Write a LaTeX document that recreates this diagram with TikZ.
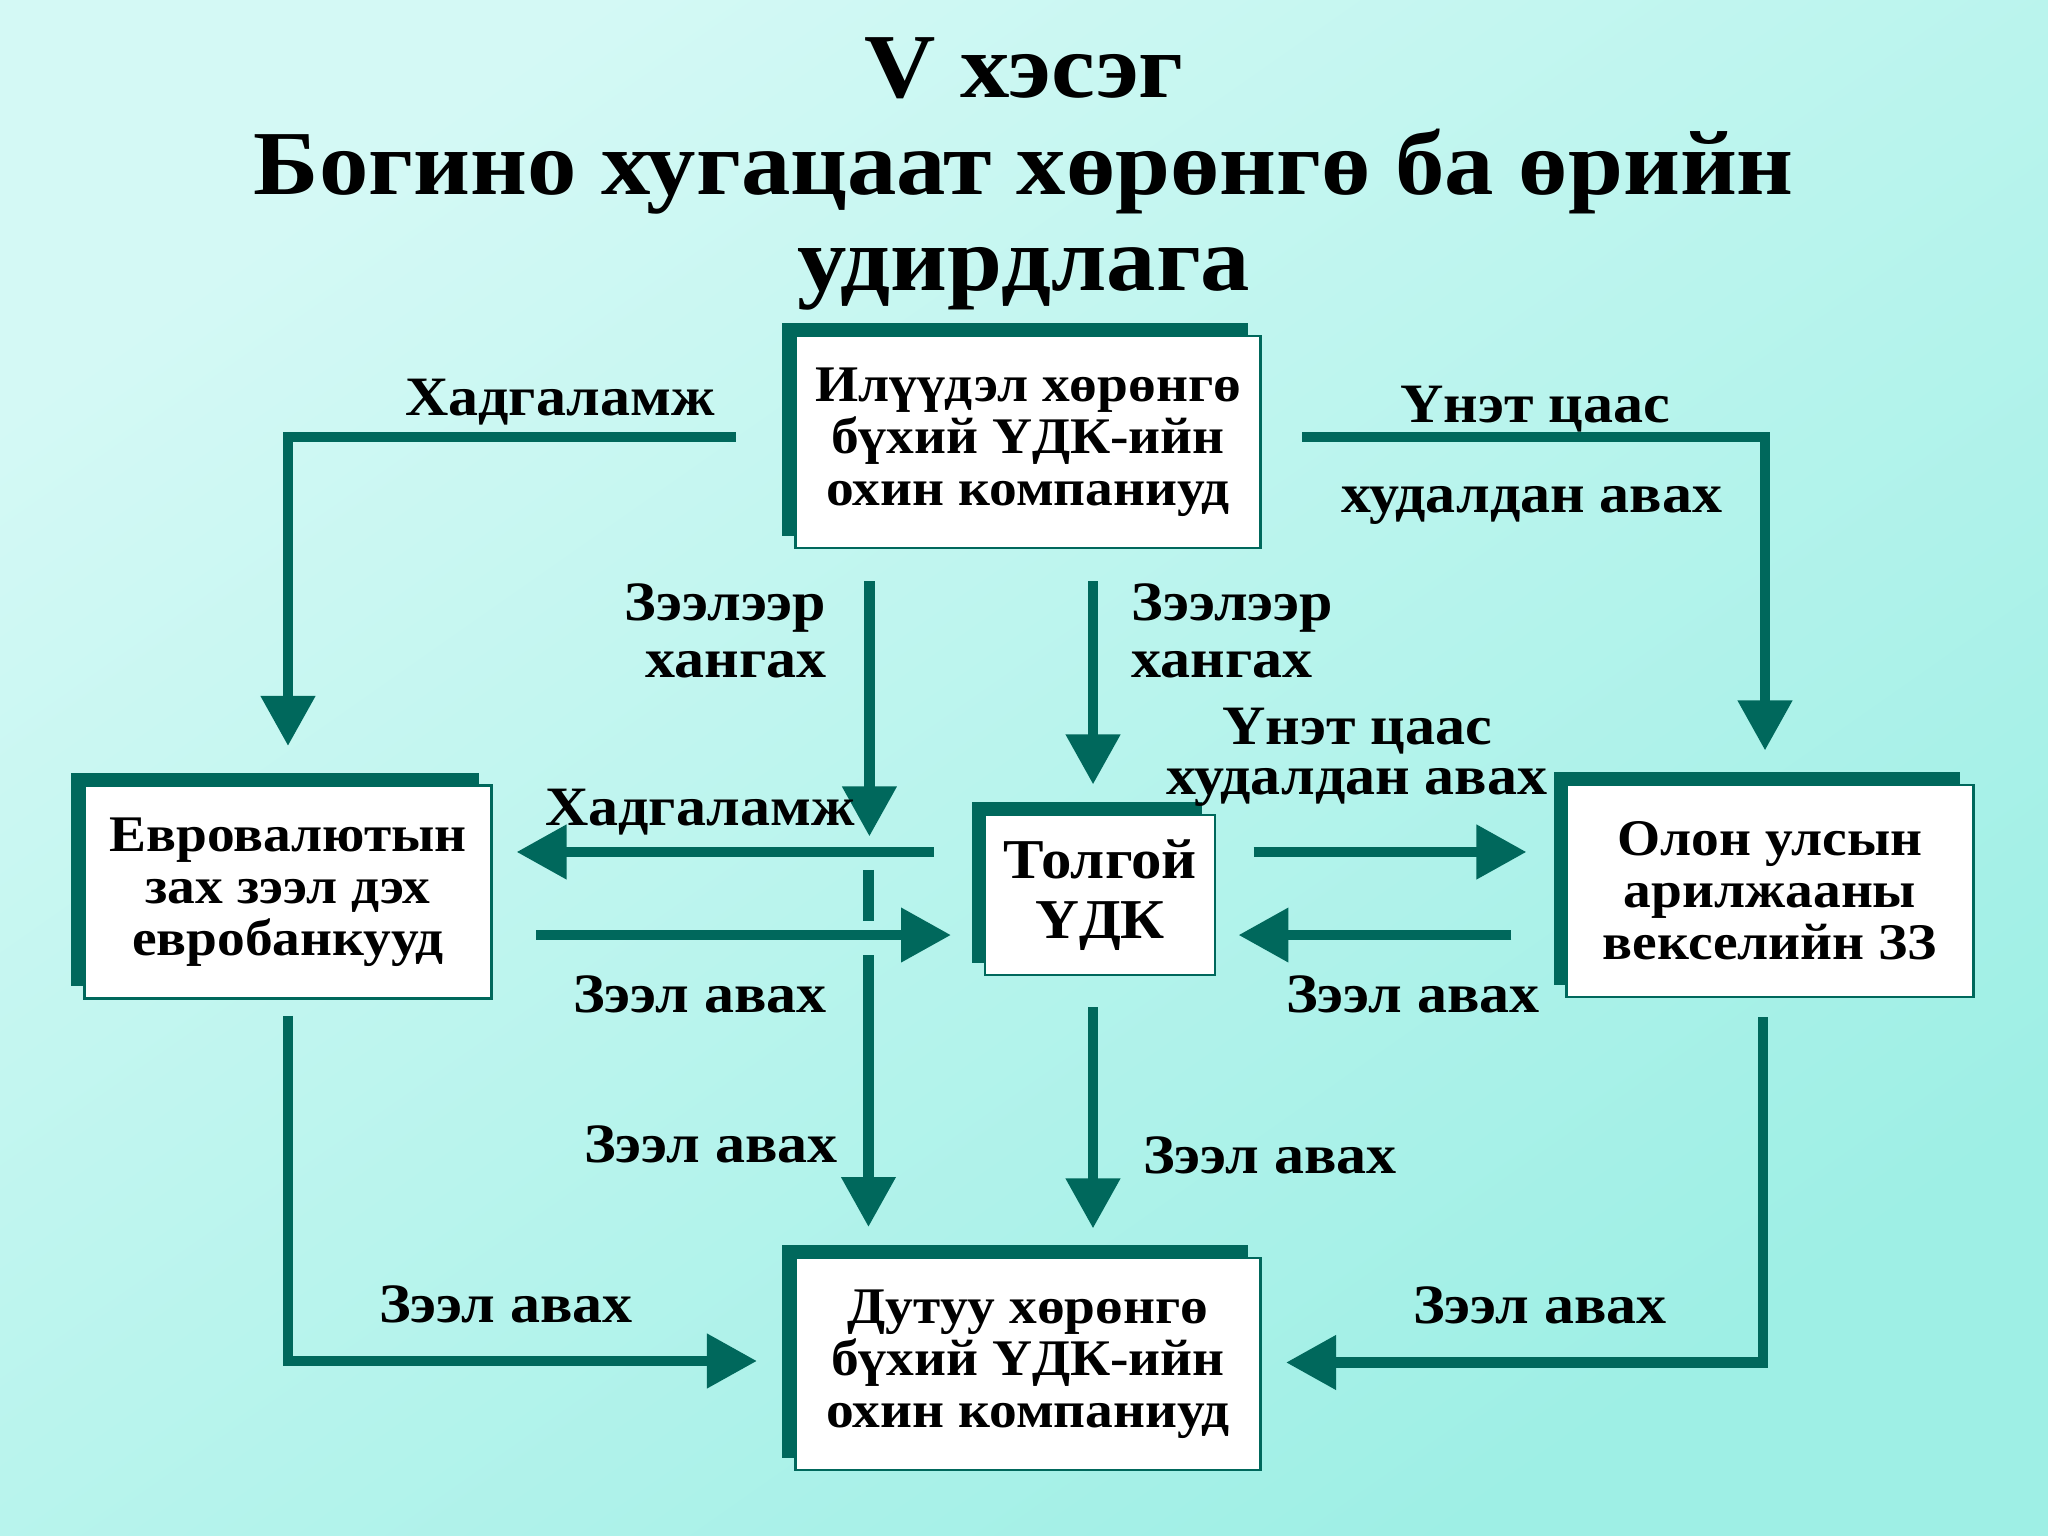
\documentclass[tikz,border=0pt]{standalone}
\usepackage{fontspec}
\setmainfont{Liberation Serif}[FakeStretch=1.08]
\usetikzlibrary{arrows.meta,shadows}

\definecolor{deepteal}{RGB}{0,104,92}
\definecolor{bgtop}{RGB}{212,249,245}
\definecolor{bgbot}{RGB}{158,239,229}
\newcommand\titlefont{\bfseries\fontsize{26}{27.5}\selectfont}
\newcommand\boxfont{\bfseries\fontsize{14.6}{14.8}\selectfont}
\newcommand\lblfont{\bfseries\fontsize{15.8}{16.2}\selectfont}

\begin{document}
\begin{tikzpicture}[x=0.01cm,y=-0.01cm,
    box/.style={draw=deepteal, line width=0.8pt, fill=white, align=center, inner sep=0pt,
      font=\boxfont, general shadow={fill=deepteal, shadow xshift=-1.3mm, shadow yshift=1.25mm}},
    arr/.style={-{Triangle[length=5mm,width=5.2mm]}, line width=3pt, draw=deepteal},
    lane/.style={line width=3pt, draw=deepteal},
    lbl/.style={font=\lblfont, inner sep=0pt}
]
\useasboundingbox (0,0) rectangle (2048,1536);
\shade[top color=bgtop, bottom color=bgbot, shading angle=35] (0,0) rectangle (2048,1536);

% title
\node[font=\titlefont, align=center] (title) at (1024,174)
  {V хэсэг\\Богино хугацаат хөрөнгө ба өрийн\\удирдлага};

% boxes
\node[box, minimum width=4.65cm, minimum height=2.12cm] (top) at (1028,442)
  {Илүүдэл хөрөнгө\\бүхий ҮДК-ийн\\охин компаниуд};
\node[box, minimum width=4.07cm, minimum height=2.13cm] (euro) at (288,892)
  {Евровалютын\\зах зээл дэх\\евробанкууд};
\node[box, minimum width=2.30cm, minimum height=1.60cm, text depth=.12cm,
  font=\bfseries\fontsize{16}{17}\selectfont] (center) at (1100,895)
  {Толгой\\ҮДК};
\node[box, minimum width=4.06cm, minimum height=2.12cm] (right) at (1770,891)
  {Олон улсын\\арилжааны\\векселийн ЗЗ};
\node[box, minimum width=4.65cm, minimum height=2.12cm] (bottom) at (1028,1364)
  {Дутуу хөрөнгө\\бүхий ҮДК-ийн\\охин компаниуд};

% connectors
\draw[arr] ([xshift=-5.8mm,yshift=.5mm]top.west) -| ([yshift=3.8mm]euro.north);
\draw[arr] ([xshift=4mm,yshift=.5mm]top.east) -| ([xshift=-.5mm,yshift=3.3mm]right.north);
\draw[arr] ([xshift=-15.85mm,yshift=-3.2mm]top.south) -- ++(0,255);
\draw[arr] ([xshift=6.5mm,yshift=-3.2mm]top.south) -- ++(0,203);
\draw[arr] ([xshift=-5mm,yshift=4.3mm]center.west) -- ++(-417,0);
\draw[arr] ([xshift=4.3mm,yshift=-4.3mm]euro.east) -- ++(415,0);
\draw[lane] ([xshift=-11.5mm,yshift=2.5mm]center.west) -- ++(0,51);
\draw[arr] ([xshift=-11.5mm,yshift=-6mm]center.west) -- ++(0,272);
\draw[arr] ([xshift=3.7mm,yshift=4.3mm]center.east) -- ++(273,0);
\draw[arr] ([xshift=-5.4mm,yshift=-4.4mm]right.west) -- ++(-273,0);
\draw[arr] ([xshift=-.7mm,yshift=-3.1mm]center.south) -- ++(0,221);
\draw[arr] ([yshift=-1.6mm]euro.south) -- ++(0,345) -- ++(469,0);
\draw[arr] ([xshift=-.7mm,yshift=-1.9mm]right.south) -- ++(0,345) -- ++(-477,0);

% labels
\node[lbl, anchor=base] (l1) at (560,415) {Хадгаламж};
\node[lbl, anchor=base] (l2) at (1535,422) {Үнэт цаас};
\node[lbl, anchor=base] (l3) at (1532,512) {худалдан авах};
\node[lbl, anchor=north east, align=right] (l4) at (827,583) {Зээлээр\\хангах};
\node[lbl, anchor=north west, align=left] (l5) at (1131,583) {Зээлээр\\хангах};
\node[lbl, anchor=base] (l6) at (700,825) {Хадгаламж};
\node[lbl, anchor=north, align=center, font=\bfseries\fontsize{15.8}{14.2}\selectfont] (l7) at (1357,707) {Үнэт цаас\\худалдан авах};
\node[lbl, anchor=base] (l8) at (700,1012) {Зээл авах};
\node[lbl, anchor=base] (l9) at (1413,1012) {Зээл авах};
\node[lbl, anchor=base] (l10) at (711,1162) {Зээл авах};
\node[lbl, anchor=base] (l11) at (1270,1173) {Зээл авах};
\node[lbl, anchor=base] (l12) at (506,1322) {Зээл авах};
\node[lbl, anchor=base] (l13) at (1540,1323) {Зээл авах};
\end{tikzpicture}
\end{document}
